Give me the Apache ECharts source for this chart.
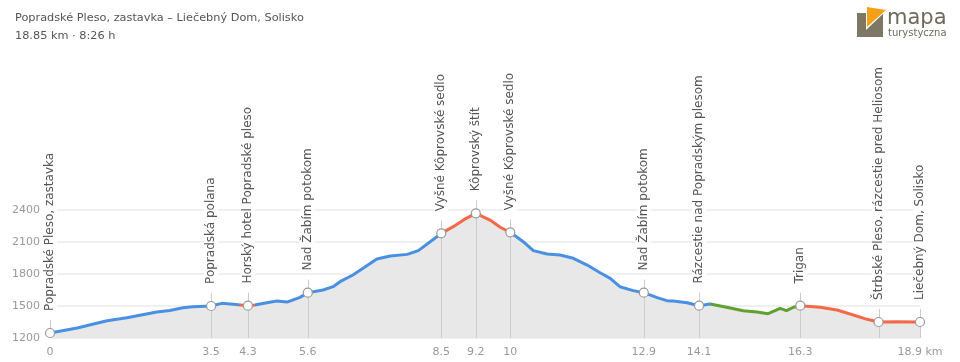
<!DOCTYPE html>
<html>
<head>
<meta charset="utf-8">
<script src="https://cdn.jsdelivr.net/npm/echarts@6/dist/echarts.min.js"></script>
<style>
html,body{margin:0;padding:0;background:#fff;}
#chart{width:960px;height:362px;}
</style>
</head>
<body>
<div id="chart"></div>
<script>
const titleText = 'Popradské Pleso, zastavka – Liečebný Dom, Solisko';
const subtitleText = '18.85 km · 8:26 h';

const profileDist = [0,0.59,1.24,1.67,2.32,2.6,2.89,3.1,3.5,3.73,3.98,4.3,4.45,4.71,4.93,5.15,5.43,5.6,5.93,6.15,6.3,6.58,6.8,7.1,7.39,7.76,8.0,8.26,8.5,8.76,9.0,9.25,9.56,9.78,10,10.28,10.5,10.8,11.08,11.37,11.67,11.95,12.17,12.38,12.67,12.9,13.19,13.4,13.54,13.84,14.1,14.34,14.7,15.06,15.36,15.6,15.75,15.86,16.0,16.15,16.3,16.73,17.1,17.45,17.75,18.0,18.4,18.9];
const profileElev = [1247,1294,1362,1390,1444,1458,1484,1494,1500,1525,1516,1503,1509,1531,1547,1537,1581,1625,1650,1681,1728,1791,1853,1941,1969,1984,2019,2103,2181,2244,2312,2369,2306,2238,2191,2103,2019,1988,1978,1947,1884,1812,1759,1681,1644,1625,1578,1550,1547,1531,1503,1519,1488,1456,1444,1428,1456,1478,1456,1488,1503,1488,1462,1416,1375,1350,1353,1350];

const wpNames = ['Popradské Pleso, zastavka','Popradská polana','Horský hotel Popradské pleso','Nad Žabím potokom','Vyšné Kôprovské sedlo','Kôprovský štít','Vyšné Kôprovské sedlo','Nad Žabím potokom','Rázcestie nad Popradským plesom','Trigan','Štrbské Pleso, rázcestie pred Heliosom','Liečebný Dom, Solisko'];
const wpDist = [0,3.5,4.3,5.6,8.5,9.25,10,12.9,14.1,16.3,18.0,18.9];
const wpElev = [1247,1500,1503,1625,2181,2369,2191,1625,1503,1503,1350,1350];

const tickValues = [0,3.5,4.3,5.6,8.5,9.25,10,12.9,14.1,16.3,18.9];
const tickLabels = ['0','3.5','4.3','5.6','8.5','9.2','10','12.9','14.1','16.3','18.9 km'];

// colour segments along the distance: [from, to, colour]
const segFrom = [0,4.1,4.45,8.5,10,14.35,16.3];
const segTo   = [4.1,4.45,8.5,10,14.35,16.3,18.9];
const segColor = ['#4a90e2','#f5694b','#4a90e2','#f5694b','#4a90e2','#5fa030','#f5694b'];

const FONT = 'DejaVu Sans';
const chart = echarts.init(document.getElementById('chart'), null, {renderer:'canvas'});
const profile = profileDist.map((d,i)=>[d, profileElev[i]]);
const wps = wpDist.map((d,i)=>[d, wpElev[i]]);

chart.setOption({
  animation:false,
  backgroundColor:'#fff',
  grid:{left:50,right:40,top:210,bottom:24},
  xAxis:{
    type:'value',min:0,max:18.9,
    axisLine:{show:false},axisTick:{show:false},splitLine:{show:false},
    axisLabel:{
      customValues:tickValues,
      formatter:function(v){const i=tickValues.indexOf(v);return i>=0?tickLabels[i]:'';},
      color:'#999',fontSize:11,fontFamily:FONT,margin:9,showMinLabel:true,showMaxLabel:true
    }
  },
  yAxis:{
    type:'value',min:1200,max:2400,interval:300,
    axisLine:{show:false},axisTick:{show:false},
    splitLine:{lineStyle:{color:'#f0f0f0',width:2}},
    axisLabel:{color:'#999',fontSize:11,fontFamily:FONT,margin:10,formatter:function(v){return String(v);}}
  },
  visualMap:{
    show:false,type:'piecewise',dimension:0,seriesIndex:2,
    pieces:segFrom.map((f,i)=>({gte:f,lt:segTo[i]+(i===segFrom.length-1?1:0),color:segColor[i]}))
  },
  graphic:[
    {type:'text',left:15,top:13,style:{text:titleText,fill:'#555',font:'11.3px "DejaVu Sans"'}},
    {type:'text',left:15,top:31,style:{text:subtitleText,fill:'#555',font:'11.3px "DejaVu Sans"'}},
    {type:'rect',shape:{x:857,y:13,width:26,height:24},style:{fill:'#7d7866'}},
    {type:'polygon',shape:{points:[[866,9],[885,12],[866,30]]},style:{fill:'#fff'}},
    {type:'polygon',shape:{points:[[867,7],[886,10],[867,27]]},style:{fill:'#f6a01a'}},
    {type:'text',x:887,y:8,style:{text:'mapa',fill:'#6f6b5c',font:'21px "DejaVu Sans"'}},
    {type:'text',x:888,y:28,style:{text:'turystyczna',fill:'#6f6b5c',font:'10px "DejaVu Sans"'}}
  ],
  series:[
    {type:'line',data:profile,symbol:'none',lineStyle:{width:0},areaStyle:{color:'#e8e8e8',opacity:1,origin:'start'},silent:true,z:1},
    {type:'custom',data:wps,clip:false,z:2,silent:true,
      renderItem:function(params,api){
        const p0=api.coord([api.value(0),1200]);
        const p1=api.coord([api.value(0),api.value(1)]);
        return {type:'line',shape:{x1:Math.round(p0[0])+0.5,y1:p0[1],x2:Math.round(p1[0])+0.5,y2:p1[1]-13},style:{stroke:'#ccc',lineWidth:1}};
      }
    },
    {type:'line',data:profile,symbol:'none',lineStyle:{width:3},z:3,silent:true},
    {type:'scatter',data:wps,symbol:'circle',symbolSize:9,z:5,clip:false,silent:true,
      itemStyle:{color:'#fff',borderColor:'#999',borderWidth:1.2,opacity:1},
      label:{show:true,position:'top',distance:15,rotate:90,align:'left',verticalAlign:'middle',
        formatter:function(p){return wpNames[p.dataIndex];},
        color:'#555',fontSize:12,fontFamily:FONT,backgroundColor:'#fff',padding:[1,2]}
    }
  ]
});
</script>
</body>
</html>
